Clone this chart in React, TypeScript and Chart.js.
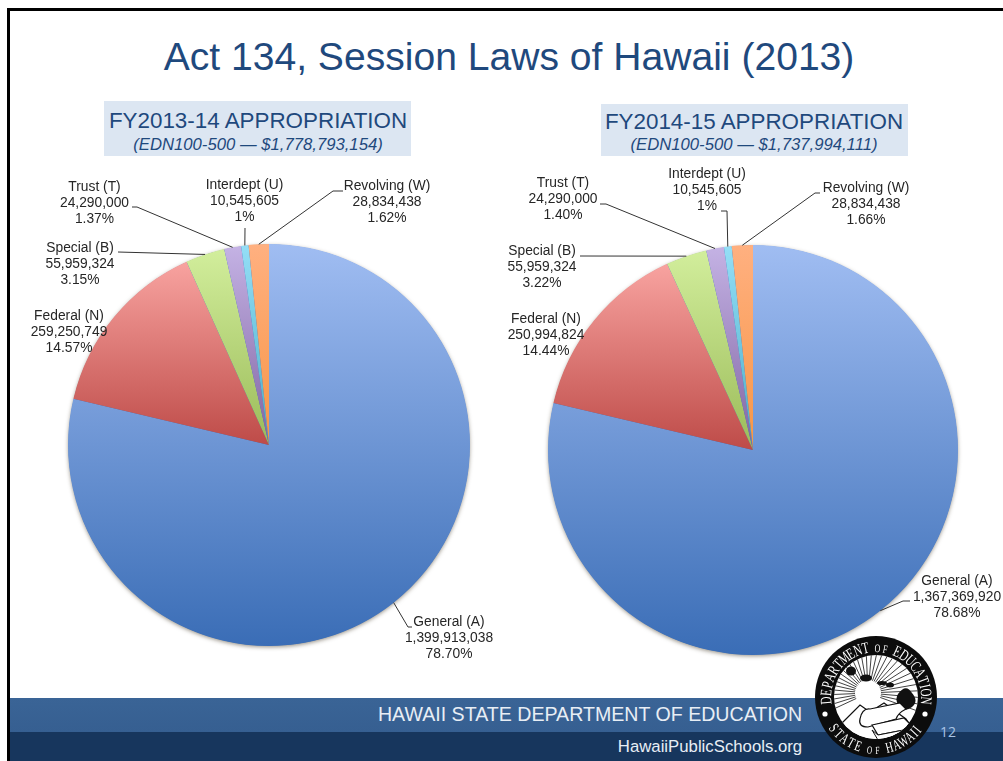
import React, { useEffect, useRef } from "react";
import { Chart, registerables } from "chart.js";

Chart.register(...registerables);

const categories = ["General (A)", "Federal (N)", "Special (B)", "Trust (T)", "Interdept (U)", "Revolving (W)"];
const valuesFY14 = [1399913038, 259250749, 55959324, 24290000, 10545605, 28834438];
const valuesFY15 = [1367369920, 250994824, 55959324, 24290000, 10545605, 28834438];
const percentsFY14 = ["78.70%", "14.57%", "3.15%", "1.37%", "1%", "1.62%"];
const percentsFY15 = ["78.68%", "14.44%", "3.22%", "1.40%", "1%", "1.66%"];
const topColors = ["#A0BDF2", "#F8A3A0", "#D2EE9C", "#C4B2E4", "#94DEF6", "#FFB080"];
const bottomColors = ["#3A6DB6", "#BE4B48", "#9BBB59", "#8064A2", "#4BACC6", "#F79646"];

type Place = { x: number; y: number; leader: number[][] };
const placesFY14: Place[] = [
  { x: 449, y: 622, leader: [[412, 627], [408, 627]] },
  { x: 69, y: 316, leader: [] },
  { x: 80, y: 248, leader: [[118, 252]] },
  { x: 94.5, y: 187, leader: [[132, 207], [137, 207]] },
  { x: 244.5, y: 185, leader: [[245, 228]] },
  { x: 387, y: 186, leader: [[343, 191], [333, 191]] },
];
const placesFY15: Place[] = [
  { x: 957, y: 581, leader: [[910, 601], [903, 601]] },
  { x: 546, y: 319, leader: [] },
  { x: 542, y: 251, leader: [[580, 256]] },
  { x: 563, y: 183, leader: [[600, 204], [606, 204]] },
  { x: 707, y: 174, leader: [[721, 211], [727, 211]] },
  { x: 866, y: 188, leader: [[820, 193], [815, 193]] },
];

const FONT = '"Liberation Sans", Arial, sans-serif';

function sliceGradient(ctx: any) {
  const chart = ctx.chart;
  const area = chart.chartArea;
  const i = ctx.dataIndex;
  if (!area || i === undefined) return topColors[i ?? 0];
  const data: number[] = chart.data.datasets[0].data;
  const total = data.reduce((a, b) => a + b, 0);
  let before = 0;
  for (let k = 0; k < i; k++) before += data[k];
  const a0 = before / total;
  const a1 = (before + data[i]) / total;
  const cy = (area.top + area.bottom) / 2;
  const r = (area.bottom - area.top) / 2;
  const c0 = Math.cos(a0 * 2 * Math.PI);
  const c1 = Math.cos(a1 * 2 * Math.PI);
  const hi = a0 === 0 ? 1 : Math.max(c0, c1, 0);
  const lo = a0 < 0.5 && a1 > 0.5 ? -1 : Math.min(c0, c1, 0);
  const g = chart.ctx.createLinearGradient(0, cy - r * hi, 0, cy - r * lo);
  g.addColorStop(0, topColors[i]);
  g.addColorStop(1, bottomColors[i]);
  return g;
}

function makeLabelPlugin(places: Place[], percents: string[], left: number, top: number) {
  return {
    id: "sliceLabels",
    beforeDatasetsDraw(chart: any) {
      const a = chart.chartArea;
      const c = chart.ctx;
      c.save();
      c.shadowColor = "rgba(60,50,30,0.55)";
      c.shadowBlur = 4;
      c.shadowOffsetY = 1.5;
      c.fillStyle = "#3A6DB6";
      c.beginPath();
      c.arc((a.left + a.right) / 2, (a.top + a.bottom) / 2, (a.bottom - a.top) / 2 - 0.5, 0, Math.PI * 2);
      c.fill();
      c.restore();
    },
    afterDatasetsDraw(chart: any) {
      const c = chart.ctx;
      const arcs = chart.getDatasetMeta(0).data;
      const values: number[] = chart.data.datasets[0].data;
      c.save();
      c.strokeStyle = "#333333";
      c.lineWidth = 1;
      arcs.forEach((arc: any, i: number) => {
        const p = places[i];
        if (p.leader.length) {
          const mid = (arc.startAngle + arc.endAngle) / 2;
          c.beginPath();
          p.leader.forEach((pt, k) => {
            if (k === 0) c.moveTo(pt[0] - left, pt[1] - top);
            else c.lineTo(pt[0] - left, pt[1] - top);
          });
          c.lineTo(arc.x + Math.cos(mid) * arc.outerRadius, arc.y + Math.sin(mid) * arc.outerRadius);
          c.stroke();
        }
        c.fillStyle = "#262626";
        c.font = `13.8px ${FONT}`;
        c.textAlign = "center";
        c.textBaseline = "middle";
        const lines = [categories[i], values[i].toLocaleString("en-US"), percents[i]];
        lines.forEach((t, k) => c.fillText(t, p.x - left, p.y - top + k * 16));
      });
      c.restore();
    },
  };
}

type PieProps = {
  values: number[];
  percents: string[];
  places: Place[];
  box: { left: number; top: number; width: number; height: number };
  pad: { left: number; right: number; top: number; bottom: number };
};

function Pie({ values, percents, places, box, pad }: PieProps) {
  const ref = useRef<HTMLCanvasElement>(null);
  useEffect(() => {
    const chart = new Chart(ref.current as HTMLCanvasElement, {
      type: "pie",
      data: {
        labels: categories,
        datasets: [{ data: values, backgroundColor: sliceGradient as any, borderWidth: 0 }],
      },
      options: {
        animation: false,
        responsive: false,
        maintainAspectRatio: false,
        layout: { padding: pad },
        plugins: { legend: { display: false }, tooltip: { enabled: false } },
      },
      plugins: [makeLabelPlugin(places, percents, box.left, box.top)],
    });
    return () => chart.destroy();
  }, []);
  return (
    <canvas
      ref={ref}
      width={box.width}
      height={box.height}
      style={{ position: "absolute", left: box.left, top: box.top, width: box.width, height: box.height }}
    />
  );
}

function Txt({ x, y, size, color, italic, children, spacing }: any) {
  return (
    <div
      style={{
        position: "absolute",
        left: x,
        top: y,
        transform: "translate(-50%,-50%)",
        whiteSpace: "nowrap",
        font: `${italic ? "italic " : ""}${size}px ${FONT}`,
        color,
        letterSpacing: spacing ?? 0,
      }}
    >
      {children}
    </div>
  );
}

function ArcWord({ text, from, to, radius, size, flip }: any) {
  const chars = text.split("");
  const weights = chars.map((ch: string) => (ch === " " ? 0.55 : ch === "I" ? 0.6 : 1));
  const total = weights.reduce((a: number, b: number) => a + b, 0) - (weights[0] + weights[chars.length - 1]) / 2;
  let run = -weights[0] / 2;
  return (
    <g>
      {chars.map((ch: string, i: number) => {
        run += weights[i] / 2;
        const angle = from + ((to - from) * run) / total;
        run += weights[i] / 2;
        if (ch === " ") return null;
        const isSmall = (text[i - 1] === " " || text[i + 1] === " ") && (ch === "O" || ch === "F");
        const sz = isSmall ? size * 0.72 : size;
        const place = flip ? `rotate(${angle}) translate(0,${radius})` : `rotate(${angle}) translate(0,${-radius})`;
        return (
          <text
            key={i}
            transform={`${place} scale(0.68,1)`}
            textAnchor="middle"
            fill="#fff"
            fontFamily='"Liberation Serif", serif'
            fontSize={sz}
          >
            {ch}
          </text>
        );
      })}
    </g>
  );
}

function Seal() {
  const rays = [];
  for (let d = -115; d <= 115; d += 7.5) {
    const t = (d * Math.PI) / 180;
    rays.push(
      <line key={d} x1={-8 + 13 * Math.sin(t)} y1={-4 - 13 * Math.cos(t)} x2={-8 + 62 * Math.sin(t)} y2={-4 - 62 * Math.cos(t)} stroke="#111" strokeWidth={0.8} />
    );
  }
  return (
    <svg width={126} height={126} viewBox="-63 -63 126 126" style={{ position: "absolute", left: 813, top: 634 }}>
      <defs>
        <clipPath id="sealInner"><circle r={42} /></clipPath>
      </defs>
      <circle r={61} fill="#0c0c0c" />
      <circle r={42} fill="#fff" />
      <g clipPath="url(#sealInner)">
        {rays}
        <circle cx={-8} cy={-4} r={12} fill="#fff" />
        <ellipse cx={-25} cy={-26} rx={5} ry={4.5} fill="#111" />
        <ellipse cx={-10} cy={-19} rx={6} ry={3.5} fill="#111" />
        <ellipse cx={6} cy={-14} rx={5} ry={2} fill="#111" />
        <ellipse cx={14} cy={-12} rx={4} ry={2.5} fill="#111" />
        <path d="M 22 -3 Q 30 -14 36 -4 Q 43 4 36 10 Q 28 16 24 10 Q 18 3 22 -3 Z" fill="#111" />
        <path d="M -38 30 L -16 8 L -6 15 L 8 6 L 30 22 L 45 45 L -38 45 Z" fill="#fff" stroke="#111" strokeWidth={1.2} />
        <path d="M -16 22 Q -14 11 -6 12 L 24 6 L 30 12 Q 22 16 20 22 L -8 30 Q -18 30 -16 22 Z" fill="#fff" stroke="#111" strokeWidth={1.2} />
        <path d="M -4 28 L 28 21 L 38 31 L 2 38 Z" fill="#fff" stroke="#111" strokeWidth={1.2} />
        <path d="M 2 38 L 38 31 L 38 36 L 2 43 L -4 33 Z" fill="#fff" stroke="#111" strokeWidth={1} />
      </g>
      <ArcWord text="DEPARTMENT OF EDUCATION" from={-94} to={94} radius={45} size={16} />
      <ArcWord text="STATE OF HAWAII" from={54} to={-52} radius={57} size={15} flip />
      <circle cx={-51} cy={17} r={2.6} fill="#fff" />
      <circle cx={49} cy={17} r={2.6} fill="#fff" />
    </svg>
  );
}

export default function App() {
  const navy = "#1F497D";
  return (
    <div style={{ position: "absolute", left: 0, top: 0, width: 1003, height: 761, overflow: "hidden", background: "#fff" }}>
      <div style={{ position: "absolute", left: 7, top: 8, width: 996, height: 753, borderLeft: "3px solid #000", borderTop: "3px solid #000", boxSizing: "border-box" }} />
      <Txt x={509} y={57} size={39.1} color={navy}>Act 134, Session Laws of Hawaii (2013)</Txt>

      <div style={{ position: "absolute", left: 104, top: 101, width: 307, height: 55, background: "#DCE6F2" }} />
      <Txt x={258} y={121} size={22.4} color={navy}>FY2013-14 APPROPRIATION</Txt>
      <Txt x={258} y={145} size={16.7} color={navy} italic>(EDN100-500 — $1,778,793,154)</Txt>

      <div style={{ position: "absolute", left: 601, top: 104, width: 307, height: 52, background: "#DCE6F2" }} />
      <Txt x={754} y={122} size={22.4} color={navy}>FY2014-15 APPROPRIATION</Txt>
      <Txt x={754} y={145} size={16.7} color={navy} italic>(EDN100-500 — $1,737,994,111)</Txt>

      <Pie
        values={valuesFY14}
        percents={percentsFY14}
        places={placesFY14}
        box={{ left: 10, top: 160, width: 490, height: 520 }}
        pad={{ left: 58, right: 30, top: 84, bottom: 34 }}
      />
      <Pie
        values={valuesFY15}
        percents={percentsFY15}
        places={placesFY15}
        box={{ left: 500, top: 160, width: 503, height: 520 }}
        pad={{ left: 48, right: 45, top: 85, bottom: 25 }}
      />

      <div style={{ position: "absolute", left: 10, top: 698, width: 993, height: 34, background: "linear-gradient(#3A6496,#365F91)" }} />
      <div style={{ position: "absolute", left: 10, top: 732, width: 993, height: 29, background: "#17365D" }} />
      <Txt x={590} y={714} size={19.6} color="#E8EEF5">HAWAII STATE DEPARTMENT OF EDUCATION</Txt>
      <Txt x={710} y={747} size={16.75} color="#E8EEF5">HawaiiPublicSchools.org</Txt>
      <div style={{ position: "absolute", left: 940, top: 722, font: '14px "Open Sans", sans-serif', color: "#A9C4E4" }}>12</div>
      <Seal />
    </div>
  );
}
